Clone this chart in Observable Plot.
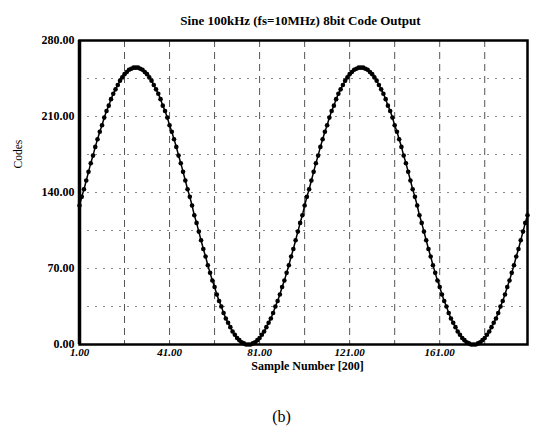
<!DOCTYPE html>
<html>
<head>
<meta charset="utf-8">
<script src="https://cdn.jsdelivr.net/npm/d3@7"></script>
<script src="https://cdn.jsdelivr.net/npm/@observablehq/plot@0.6"></script>
<style>
  html, body { margin: 0; padding: 0; background: #fff; }
  svg { display: block; }
</style>
</head>
<body>
<div id="chart"></div>
<script>
const titleText = "Sine 100kHz (fs=10MHz) 8bit Code Output";
const xLabel = "Sample Number [200]";
const yLabel = "Codes";
const caption = "(b)";

// 8-bit codes, samples 1..200
const codes = [
  128,136,143,151,159,167,174,182,189,196,202,209,215,220,226,231,235,239,243,246,
  249,251,253,254,255,255,255,254,253,251,249,246,243,239,235,231,226,220,215,209,
  202,196,189,182,174,167,159,151,143,136,128,119,112,104,96,88,81,73,66,59,
  53,46,40,35,29,24,20,16,12,9,6,4,2,1,0,0,0,1,2,4,
  6,9,12,16,20,24,29,35,40,46,53,59,66,73,81,88,96,104,112,119,
  128,136,143,151,159,167,174,182,189,196,202,209,215,220,226,231,235,239,243,246,
  249,251,253,254,255,255,255,254,253,251,249,246,243,239,235,231,226,220,215,209,
  202,196,189,182,174,167,159,151,143,136,128,119,112,104,96,88,81,73,66,59,
  53,46,40,35,29,24,20,16,12,9,6,4,2,1,0,0,0,1,2,4,
  6,9,12,16,20,24,29,35,40,46,53,59,66,73,81,88,96,104,112,119
];
const samples = codes.map((_, i) => i + 1);

const xTicks = [1, 41, 81, 121, 161];
const yTicks = [0, 70, 140, 210, 280];
const xGrid = [21, 41, 61, 81, 101, 121, 141, 161, 181];
const yGrid = [35, 70, 105, 140, 175, 210, 245];

const data = samples.map((s, i) => ({sample: s, code: codes[i]}));
const serif = "'Liberation Serif', 'Times New Roman', serif";

const chart = Plot.plot({
  width: 535,
  height: 436,
  marginLeft: 79,
  marginRight: 8,
  marginTop: 40,
  marginBottom: 92,
  style: {fontFamily: serif, background: "#fff", color: "#000"},
  x: {domain: [1, 200]},
  y: {domain: [0, 280]},
  marks: [
    Plot.ruleX(xGrid, {stroke: "#555", strokeWidth: 1, strokeDasharray: "7,5"}),
    Plot.ruleY(yGrid, {stroke: "#888", strokeWidth: 1, strokeDasharray: "2,6"}),
    Plot.line(data, {x: "sample", y: "code", stroke: "#000", strokeWidth: 1.5}),
    Plot.dot(data, {x: "sample", y: "code", r: 2.3, fill: "#000", stroke: "none"}),
    Plot.frame({stroke: "#000", strokeWidth: 2.5}),
    Plot.ruleX([1], {stroke: "#000", strokeWidth: 3.5}),
    Plot.axisY({ticks: yTicks, tickFormat: d => d.toFixed(2), tickSize: 0, tickPadding: 5,
      fontSize: 12, fontWeight: "bold", label: null}),
    Plot.axisX({ticks: xTicks, tickFormat: d => d.toFixed(2), tickSize: 0, tickPadding: 4,
      fontSize: 11, fontWeight: "bold", fontStyle: "italic", label: null}),
    Plot.text([titleText], {frameAnchor: "top", dy: -25, dx: -3, fontSize: 13, fontWeight: "bold"}),
    Plot.text([xLabel], {frameAnchor: "bottom", dy: 25, dx: 4, fontSize: 12, fontWeight: "bold"}),
    Plot.text([yLabel], {frameAnchor: "left", dx: -61, dy: -24, rotate: -90, fontSize: 11.5}),
    Plot.text([caption], {frameAnchor: "bottom", dy: 77, dx: -22, fontSize: 16})
  ]
});
document.getElementById("chart").appendChild(chart);
</script>
</body>
</html>
